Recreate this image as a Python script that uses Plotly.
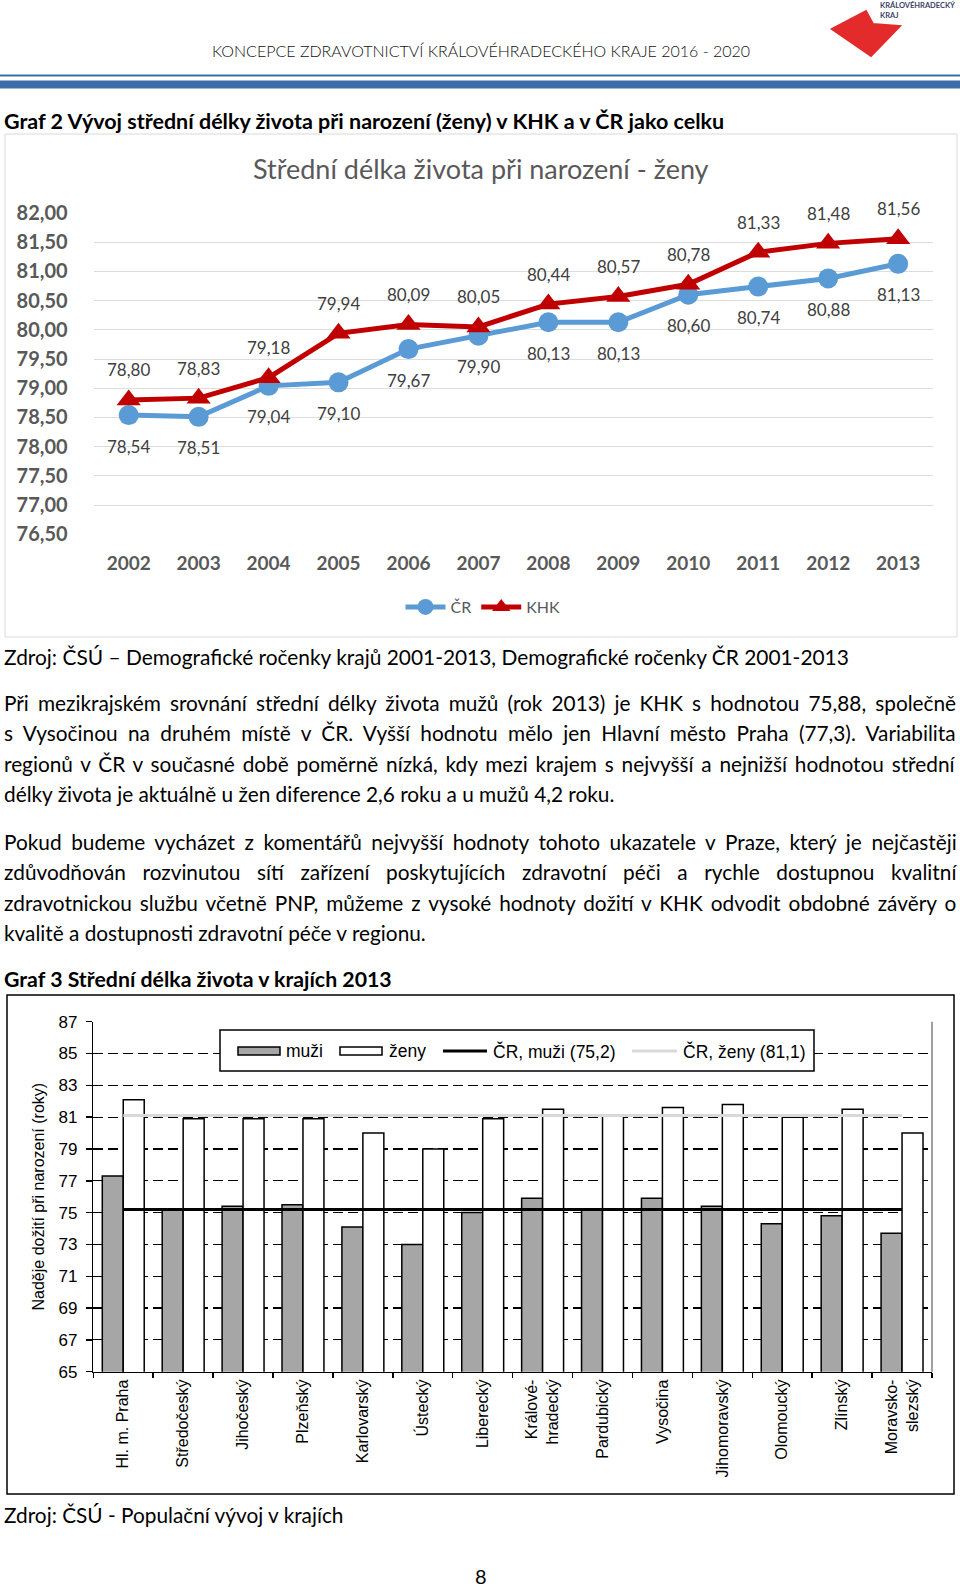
import plotly.graph_objects as go

W, H = 960, 1588

# ---------------- data ----------------
years = ["2002", "2003", "2004", "2005", "2006", "2007", "2008", "2009", "2010", "2011", "2012", "2013"]
cr_values = [78.54, 78.51, 79.04, 79.10, 79.67, 79.90, 80.13, 80.13, 80.60, 80.74, 80.88, 81.13]
khk_values = [78.80, 78.83, 79.18, 79.94, 80.09, 80.05, 80.44, 80.57, 80.78, 81.33, 81.48, 81.56]

regions = ["Hl. m. Praha", "Středočeský", "Jihočeský", "Plzeňský", "Karlovarský", "Ústecký",
           "Liberecký", "Králové-<br>hradecký", "Pardubický", "Vysočina", "Jihomoravský",
           "Olomoucký", "Zlínský", "Moravsko-<br>slezský"]
men_values = [77.3, 75.2, 75.4, 75.5, 74.1, 73.0, 75.0, 75.9, 75.2, 75.9, 75.4, 74.3, 74.8, 73.7]
women_values = [82.1, 80.9, 80.9, 80.9, 80.0, 79.0, 80.9, 81.5, 81.1, 81.6, 81.8, 81.0, 81.5, 80.0]
cr_men = 75.2
cr_women = 81.1
bar_legend_labels = ["muži", "ženy", "ČR, muži (75,2)", "ČR, ženy (81,1)"]

header_text = "KONCEPCE ZDRAVOTNICTVÍ KRÁLOVÉHRADECKÉHO KRAJE 2016 - 2020"
graf2_title = "Graf 2 Vývoj střední délky života při narození (ženy) v KHK a v ČR jako celku"
chart1_title = "Střední délka života při narození - ženy"
source1 = "Zdroj: ČSÚ – Demografické ročenky krajů 2001-2013, Demografické ročenky ČR 2001-2013"
para1 = [
    "Při mezikrajském srovnání střední délky života mužů (rok 2013) je KHK s hodnotou 75,88, společně",
    "s Vysočinou na druhém místě v ČR. Vyšší hodnotu mělo jen Hlavní město Praha (77,3). Variabilita",
    "regionů v ČR v současné době poměrně nízká, kdy mezi krajem s nejvyšší a nejnižší hodnotou střední",
    "délky života je aktuálně u žen diference 2,6 roku a u mužů 4,2 roku.",
]
para2 = [
    "Pokud budeme vycházet z komentářů nejvyšší hodnoty tohoto ukazatele v Praze, který je nejčastěji",
    "zdůvodňován rozvinutou sítí zařízení poskytujících zdravotní péči a rychle dostupnou kvalitní",
    "zdravotnickou službu včetně PNP, můžeme z vysoké hodnoty dožití v KHK odvodit obdobné závěry o",
    "kvalitě a dostupnosti zdravotní péče v regionu.",
]
# extra word spacing (px) used to justify the full lines of each paragraph
para1_spacing = [3.8, 5.1, 2.5, 0]
para2_spacing = [4.3, 11.3, 2.7, 0]
graf3_title = "Graf 3 Střední délka života v krajích 2013"
source2 = "Zdroj: ČSÚ - Populační vývoj v krajích"


def px(x):
    return x / W


def py(y):
    return 1 - y / H


def fmt(v):
    return f"{v:.2f}".replace(".", ",")


BODY = "Lato"
ARIAL = "Liberation Sans"
GRAY = "#595959"
TXT = 20.8
MEN_FILL = "#A6A6A6"
CRW_COLOR = "#D9D9D9"

fig = go.Figure()

# ---------- chart 1: lines ----------
fig.add_trace(go.Scatter(
    x=years, y=cr_values, name="ČR", mode="lines+markers",
    line=dict(color="#5B9BD5", width=5),
    marker=dict(symbol="circle", size=20, color="#5B9BD5"),
    xaxis="x", yaxis="y", hoverinfo="skip"))
fig.add_trace(go.Scatter(
    x=years, y=khk_values, name="KHK", mode="lines+markers",
    line=dict(color="#C00000", width=5),
    marker=dict(symbol="triangle-up", size=21, color="#C00000"),
    xaxis="x", yaxis="y", hoverinfo="skip"))

# ---------- chart 2: bars ----------
fig.add_trace(go.Bar(
    x=regions, y=men_values, name=bar_legend_labels[0], showlegend=False,
    marker=dict(color=MEN_FILL, line=dict(color="black", width=1.5)),
    xaxis="x2", yaxis="y2", hoverinfo="skip"))
fig.add_trace(go.Bar(
    x=regions, y=women_values, name=bar_legend_labels[1], showlegend=False,
    marker=dict(color="white", line=dict(color="black", width=1.5)),
    xaxis="x2", yaxis="y2", hoverinfo="skip"))
fig.add_trace(go.Scatter(
    x=[regions[0], regions[-1]], y=[cr_men, cr_men], name=bar_legend_labels[2], mode="lines",
    showlegend=False, line=dict(color="black", width=3),
    xaxis="x2", yaxis="y2", hoverinfo="skip"))
fig.add_trace(go.Scatter(
    x=[regions[0], regions[-1]], y=[cr_women, cr_women], name=bar_legend_labels[3], mode="lines",
    showlegend=False, line=dict(color=CRW_COLOR, width=3),
    xaxis="x2", yaxis="y2", hoverinfo="skip"))

annotations = []


def txt(x, y, text, size=TXT, color="black", family=BODY, weight="normal", xanchor="left",
        yanchor="middle", wordspacing=0):
    if wordspacing:
        text = f'<span style="word-spacing:{wordspacing}px">{text}</span>'
    annotations.append(dict(
        x=px(x), y=py(y), xref="paper", yref="paper", text=text, showarrow=False,
        xanchor=xanchor, yanchor=yanchor, borderpad=0,
        font=dict(family=family, size=size, color=color, weight=weight)))


# header
txt(480.5, 51, header_text, size=16, color="#111111", weight=300, xanchor="center")
txt(879, 5, "KRÁLOVÉHRADECKÝ", size=7.5, color="#3b3f66", weight="bold")
txt(879, 15, "KRAJ", size=7.5, color="#3b3f66", weight="bold")
txt(3, 121.5, graf2_title, size=21.5, weight="bold")
txt(480.5, 169, chart1_title, size=27, color=GRAY, xanchor="center")

# data labels chart 1
for i, v in enumerate(cr_values):
    annotations.append(dict(x=i, y=v, xref="x", yref="y", text=fmt(v), showarrow=False,
                            yshift=-31, font=dict(family=BODY, size=17, color="#404040")))
for i, v in enumerate(khk_values):
    annotations.append(dict(x=i, y=v, xref="x", yref="y", text=fmt(v), showarrow=False,
                            yshift=30, font=dict(family=BODY, size=17, color="#404040")))

# body text
txt(3, 656, source1, size=20.9)
for i, line in enumerate(para1):
    txt(3, 702.5 + i * 30.4, line, wordspacing=para1_spacing[i])
for i, line in enumerate(para2):
    txt(3, 841.5 + i * 30.4, line, wordspacing=para2_spacing[i])
txt(3, 979, graf3_title, size=21.3, weight="bold")
txt(3, 1514.5, source2)
txt(480.5, 1576, "8", size=20, xanchor="center")

shapes = [
    # header rules
    dict(type="rect", xref="paper", yref="paper", x0=0, x1=1, y0=py(76.5), y1=py(74.5),
         fillcolor="#3A6EA8", line=dict(width=0)),
    dict(type="rect", xref="paper", yref="paper", x0=0, x1=1, y0=py(88.5), y1=py(80.5),
         fillcolor="#3A6EA8", line=dict(width=0)),
    # logo
    dict(type="path", xref="paper", yref="paper",
         path=f"M {px(832)} {py(29)} L {px(866)} {py(11)} L {px(873)} {py(24)} "
              f"L {px(900)} {py(26)} L {px(871)} {py(56)} Z",
         fillcolor="#E32B2B", line=dict(color="#E32B2B", width=2)),
    # chart 1 frame
    dict(type="rect", xref="paper", yref="paper", x0=px(5), x1=px(957), y0=py(637), y1=py(134),
         line=dict(color="#D9D9D9", width=1), layer="below"),
    # chart 2 frame
    dict(type="rect", xref="paper", yref="paper", x0=px(7), x1=px(954), y0=py(1494), y1=py(995),
         line=dict(color="black", width=1.5), layer="below"),
    # chart 2 plot-area right edge
    dict(type="line", xref="paper", yref="paper", x0=px(932), x1=px(932), y0=py(1371.7), y1=py(1021.7),
         line=dict(color="#808080", width=1.5)),
    # chart 2 legend box
    dict(type="rect", xref="paper", yref="paper", x0=px(220), x1=px(814), y0=py(1071), y1=py(1030),
         fillcolor="white", line=dict(color="black", width=1.5)),
    # legend keys
    dict(type="rect", xref="paper", yref="paper", x0=px(238), x1=px(280), y0=py(1055), y1=py(1047),
         fillcolor=MEN_FILL, line=dict(color="black", width=1.5)),
    dict(type="rect", xref="paper", yref="paper", x0=px(340), x1=px(382), y0=py(1055), y1=py(1047),
         fillcolor="white", line=dict(color="black", width=1.5)),
    dict(type="line", xref="paper", yref="paper", x0=px(443), x1=px(487), y0=py(1051), y1=py(1051),
         line=dict(color="black", width=3)),
    dict(type="line", xref="paper", yref="paper", x0=px(632), x1=px(677), y0=py(1051), y1=py(1051),
         line=dict(color=CRW_COLOR, width=3)),
]

for xl, lab in zip([285, 388, 492, 682], bar_legend_labels):
    txt(xl, 1051, lab, size=17.5, family=ARIAL)

fig.update_layout(
    width=W, height=H, margin=dict(l=0, r=0, t=0, b=0),
    paper_bgcolor="white", plot_bgcolor="white",
    separators=", ",
    barmode="group", bargap=0.3, bargroupgap=0,
    showlegend=True,
    xaxis=dict(domain=[px(93.7), px(933.1)], type="category", range=[-0.5, 11.5],
               showgrid=False, showline=False, zeroline=False, ticks="",
               tickfont=dict(family=BODY, size=19, color=GRAY, weight="bold"),
               ticklabelstandoff=16, automargin=False, fixedrange=True),
    yaxis=dict(domain=[py(534.2), py(213)], range=[76.5, 82], tick0=76.5, dtick=0.5,
               tickformat=".2f", showgrid=True, gridcolor="#DDDDDD", gridwidth=1,
               zeroline=False, showline=False, ticks="",
               tickfont=dict(family=BODY, size=20, color=GRAY, weight="bold"),
               ticklabelstandoff=25, automargin=False, fixedrange=True),
    xaxis2=dict(domain=[px(93.3), px(932)], anchor="y2", type="category", range=[-0.5, 13.5],
                tickson="boundaries", ticks="outside", ticklen=5, tickwidth=1.5, tickcolor="black",
                showline=True, linecolor="black", linewidth=1.5, showgrid=False, zeroline=False,
                tickangle=-90, tickfont=dict(family=ARIAL, size=16, color="black"),
                automargin=False, fixedrange=True),
    yaxis2=dict(domain=[py(1371.7), py(1021.7)], anchor="x2", range=[65, 87], tick0=65, dtick=2,
                showgrid=True, gridcolor="black", gridwidth=1.2, griddash="10px,5px",
                showline=True, linecolor="black", linewidth=1.5, zeroline=False,
                ticks="outside", ticklen=6, tickwidth=1.5, tickcolor="black",
                tickfont=dict(family=ARIAL, size=17, color="black"),
                ticklabelstandoff=5,
                title=dict(text="Naděje dožití při narození (roky)", standoff=10,
                           font=dict(family=ARIAL, size=16, color="black")),
                automargin=False, fixedrange=True),
    legend=dict(orientation="h", x=px(483), xanchor="center", y=py(607), yanchor="middle",
                bgcolor="rgba(0,0,0,0)", font=dict(family=BODY, size=16, color=GRAY),
                itemwidth=40),
    annotations=annotations,
    shapes=shapes,
)

fig.write_html("out.html", config={"displayModeBar": False, "staticPlot": True},
               post_script="document.body.style.margin='0';")
